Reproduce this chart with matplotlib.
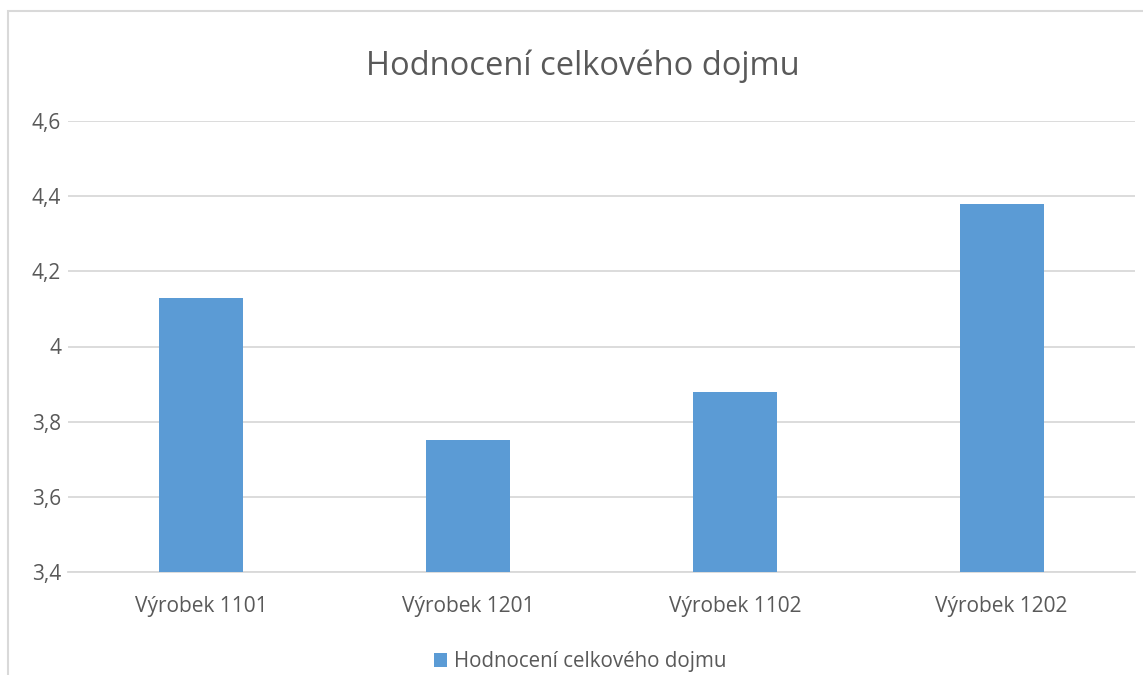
import matplotlib.pyplot as plt
from matplotlib.patches import Rectangle
from matplotlib.ticker import FuncFormatter

# data
categories = ['Výrobek 1101', 'Výrobek 1201', 'Výrobek 1102', 'Výrobek 1202']
values = [4.13, 3.75, 3.88, 4.38]
series_name = 'Hodnocení celkového dojmu'
yticks = [3.4, 3.6, 3.8, 4.0, 4.2, 4.4, 4.6]

plt.rcParams['font.family'] = ['Open Sans', 'DejaVu Sans']
text_color = '#595959'

W, H = 1143, 675
fig = plt.figure(figsize=(W / 100, H / 100), dpi=100)

# chart border (partially cut off on right and bottom)
fig.patches.append(Rectangle((8 / W, -0.1), 1.2, 1 - 11 / H + 0.1,
                             transform=fig.transFigure, fill=False,
                             edgecolor='#D9D9D9', linewidth=1.5))

ax = fig.add_axes([68 / W, 1 - 572 / H, (1135 - 68) / W, (572 - 121) / H])
x = range(len(categories))
ax.bar(x, values, width=0.315, color='#5B9BD5', label=series_name, zorder=3)

ax.set_xlim(-0.5, len(categories) - 0.5)
ax.set_ylim(3.4, 4.6)
ax.set_yticks(yticks)
ax.yaxis.set_major_formatter(FuncFormatter(lambda v, p: ('%g' % round(v, 1)).replace('.', ',')))
ax.set_xticks(list(x))
ax.set_xticklabels(categories)
ax.tick_params(axis='both', length=0, labelsize=15, colors=text_color)
ax.tick_params(axis='x', pad=17)
ax.tick_params(axis='y', pad=5)
ax.grid(axis='y', color='#D9D9D9', linewidth=1.3, zorder=0)
for s in ['top', 'right', 'left']:
    ax.spines[s].set_visible(False)
ax.spines['bottom'].set_color('#D9D9D9')
ax.spines['bottom'].set_linewidth(1.3)

fig.text(583 / W, 1 - 66 / H, 'Hodnocení celkového dojmu', ha='center', va='center',
         fontsize=23.5, color=text_color)

fig.legend(loc='center', bbox_to_anchor=(580 / W, 1 - 662 / H), frameon=False,
           fontsize=14.8, labelcolor=text_color, handlelength=0.65, handleheight=0.65,
           handletextpad=0.3)

plt.savefig('out.png', dpi=100)
